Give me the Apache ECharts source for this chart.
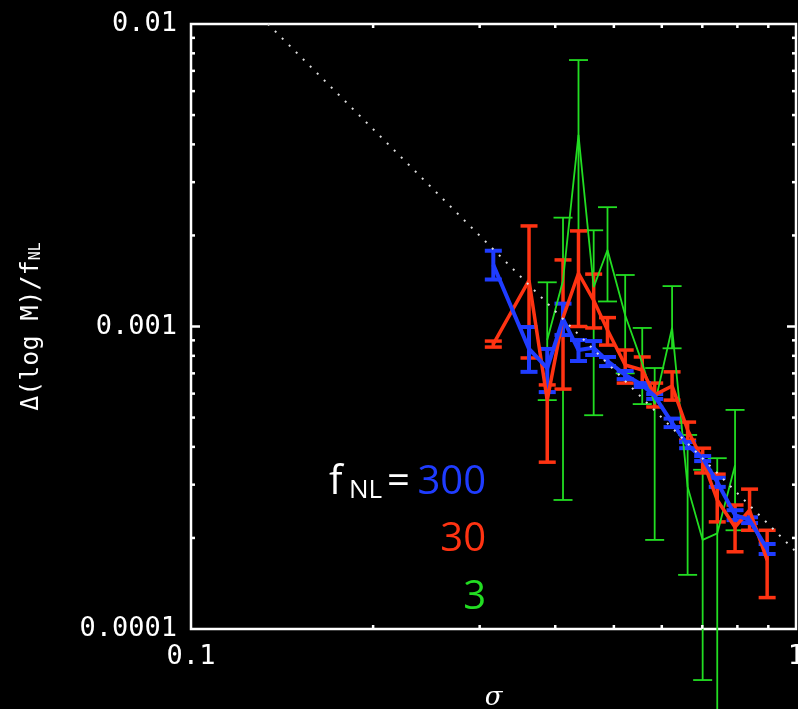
<!DOCTYPE html>
<html><head><meta charset="utf-8">
<script src="https://cdn.jsdelivr.net/npm/echarts@6/dist/echarts.min.js"></script>
<style>html,body{margin:0;padding:0;background:#000;}#c{width:798px;height:709px;}</style>
</head><body><div id="c"></div>
<script>
// ---- data ----
const sigma = [0.316, 0.362, 0.388, 0.412, 0.437, 0.463, 0.488, 0.522, 0.557, 0.584, 0.624, 0.662, 0.701, 0.741, 0.793, 0.838, 0.896];

const blueVal = [0.00160, 0.000843, 0.000729, 0.00106, 0.000836, 0.00085, 0.000769, 0.000692, 0.000641, 0.000589, 0.000480, 0.000406, 0.000367, 0.000306, 0.000238, 0.000229, 0.000184];
const blueHi  = [0.00178, 0.000996, 0.000843, 0.00119, 0.000902, 0.000895, 0.000793, 0.000713, 0.000650, 0.000598, 0.000496, 0.000415, 0.000373, 0.000316, 0.000247, 0.000234, 0.000191];
const blueLo  = [0.00143, 0.000708, 0.000607, 0.000937, 0.000769, 0.000805, 0.000740, 0.000670, 0.000631, 0.000576, 0.000465, 0.000396, 0.000359, 0.000295, 0.000229, 0.000224, 0.000177];

const redVal = [0.000875, 0.00142, 0.000571, 0.00107, 0.00150, 0.00122, 0.000974, 0.000746, 0.000718, 0.000594, 0.000636, 0.000455, 0.000362, 0.000267, 0.000217, 0.000247, 0.000169];
const redHi  = [0.000895, 0.00215, 0.000641, 0.00166, 0.00207, 0.00149, 0.00107, 0.000836, 0.000793, 0.00065, 0.000708, 0.000483, 0.000396, 0.000325, 0.000257, 0.00029, 0.000212];
const redLo  = [0.000855, 0.000787, 0.000356, 0.000621, 0.00100, 0.000989, 0.000868, 0.00065, 0.00065, 0.000542, 0.000571, 0.000421, 0.000328, 0.000226, 0.00018, 0.000212, 0.000127];

const greenVal = [null, null, 0.000902, 0.00142, 0.0043, 0.00135, 0.00179, 0.00109, 0.000757, 0.000553, 0.00099, 0.000295, 0.000197, 0.000207, 0.000348, null, null];
const greenHi  = [null, null, 0.0014, 0.00229, 0.0076, 0.00208, 0.00248, 0.00148, 0.000989, 0.000729, 0.00136, 0.000438, 0.000336, 0.000367, 0.00053, null, null];
const greenLo  = [null, null, 0.000571, 0.000267, 0.0010, 0.000509, 0.00121, 0.00070, 0.000554, 0.000197, 0.000847, 0.000151, 0.0000678, 0.00004, 0.000212, null, null];

const refSigma = [0.134, 1.0];
const refY = [0.01, 0.00018];

const xTickLabels = {'-1': '0.1', '0': '1'};
const yTickLabels = {'-4': '0.0001', '-3': '0.001', '-2': '0.01'};
const xMinorTicks = [0.2, 0.3, 0.4, 0.5, 0.6, 0.7, 0.8, 0.9];
const yMajorTicks = [0.001];
const yMinorTicks = [0.0002, 0.0003, 0.0004, 0.0005, 0.0006, 0.0007, 0.0008, 0.0009, 0.002, 0.003, 0.004, 0.005, 0.006, 0.007, 0.008, 0.009];

// ---- build ----
const BLUE = '#1f3cff', RED = '#ff3312', GREEN = '#22dd22';

function lineData(vals) { return sigma.map((s, i) => [s, vals[i]]); }
function errData(lo, hi) {
  const out = [];
  sigma.forEach((s, i) => { if (lo[i] != null && hi[i] != null) out.push([s, lo[i], hi[i]]); });
  return out;
}
function errSeries(lo, hi, color, lw, cap) {
  return {
    type: 'custom', coordinateSystem: 'cartesian2d', silent: true, clip: false,
    encode: { x: 0, y: [1, 2] },
    data: errData(lo, hi),
    renderItem: (params, api) => {
      const x = api.value(0);
      const pLo = api.coord([x, api.value(1)]);
      const pHi = api.coord([x, api.value(2)]);
      const h = cap / 2;
      const st = { stroke: color, lineWidth: lw };
      return { type: 'group', children: [
        { type: 'line', shape: { x1: pLo[0], y1: pLo[1], x2: pHi[0], y2: pHi[1] }, style: st },
        { type: 'line', shape: { x1: pLo[0] - h, y1: pLo[1], x2: pLo[0] + h, y2: pLo[1] }, style: st },
        { type: 'line', shape: { x1: pHi[0] - h, y1: pHi[1], x2: pHi[0] + h, y2: pHi[1] }, style: st }
      ]};
    }
  };
}
function lineSeries(vals, color, lw) {
  return { type: 'line', data: lineData(vals), symbol: 'none', silent: true,
    lineStyle: { color: color, width: lw }, connectNulls: false };
}
function xTickSeries(vals, len) {
  return { type: 'custom', coordinateSystem: 'cartesian2d', silent: true,
    data: vals.map(v => [v, 0.001]),
    renderItem: (params, api) => {
      const cs = params.coordSys; const x = api.coord([api.value(0), 0.001])[0];
      const st = { stroke: '#fff', lineWidth: 2.5 };
      return { type: 'group', children: [
        { type: 'line', shape: { x1: x, y1: cs.y + cs.height, x2: x, y2: cs.y + cs.height - len }, style: st },
        { type: 'line', shape: { x1: x, y1: cs.y, x2: x, y2: cs.y + len }, style: st }
      ]};
    }
  };
}
function yTickSeries(vals, len) {
  return { type: 'custom', coordinateSystem: 'cartesian2d', silent: true,
    data: vals.map(v => [0.5, v]),
    renderItem: (params, api) => {
      const cs = params.coordSys; const y = api.coord([0.5, api.value(1)])[1];
      const st = { stroke: '#fff', lineWidth: 2.5 };
      return { type: 'group', children: [
        { type: 'line', shape: { x1: cs.x, y1: y, x2: cs.x + len, y2: y }, style: st },
        { type: 'line', shape: { x1: cs.x + cs.width, y1: y, x2: cs.x + cs.width - len, y2: y }, style: st }
      ]};
    }
  };
}

const chart = echarts.init(document.getElementById('c'));
const labFont = { color: '#fff', fontFamily: 'DejaVu Sans Mono', fontSize: 27 };
chart.setOption({
  backgroundColor: '#000',
  animation: false,
  grid: { left: 191, top: 24, width: 605, height: 605, outerBoundsMode: 'none', containLabel: false,
    show: true, borderColor: '#fff', borderWidth: 2.5, backgroundColor: 'transparent' },
  xAxis: {
    type: 'log', min: 0.1, max: 1, logBase: 10,
    axisLine: { show: false }, axisTick: { show: false }, splitLine: { show: false },
    axisLabel: Object.assign({ margin: 14, showMinLabel: true, showMaxLabel: true, hideOverlap: false,
      formatter: v => xTickLabels[String(Math.round(Math.log10(v)))] || '' }, labFont),
    name: 'σ', nameLocation: 'middle', nameGap: 56,
    nameTextStyle: { color: '#fff', fontFamily: 'DejaVu Serif', fontStyle: 'italic', fontSize: 26 }
  },
  yAxis: {
    type: 'log', min: 0.0001, max: 0.01, logBase: 10,
    axisLine: { show: false }, axisTick: { show: false }, splitLine: { show: false },
    axisLabel: Object.assign({ margin: 14,
      formatter: v => yTickLabels[String(Math.round(Math.log10(v)))] || '' }, labFont),
    name: '{a|Δ(log M)/f}{b|NL}', nameLocation: 'middle', nameGap: 147, nameRotate: 90,
    nameTextStyle: { color: '#fff', rich: {
      a: { color: '#fff', fontFamily: 'DejaVu Sans Mono', fontSize: 25 },
      b: { color: '#fff', fontFamily: 'DejaVu Sans Mono', fontSize: 15, verticalAlign: 'bottom', padding: [10, 0, 0, 0] }
    } }
  },
  series: [
    lineSeries(greenVal, GREEN, 1.8),
    errSeries(greenLo, greenHi, GREEN, 1.8, 19),
    lineSeries(redVal, RED, 3.5),
    errSeries(redLo, redHi, RED, 3.5, 17),
    lineSeries(blueVal, BLUE, 4),
    errSeries(blueLo, blueHi, BLUE, 4, 17),
    { type: 'line', data: refSigma.map((s, i) => [s, refY[i]]), symbol: 'none', silent: true, z: 5,
      lineStyle: { color: '#dddddd', width: 2, type: [2, 7.9] } },
    xTickSeries(xMinorTicks, 4),
    yTickSeries(yMinorTicks, 4),
    yTickSeries(yMajorTicks, 9)
  ],
  graphic: [
    { type: 'text', x: 329, y: 483, style: { text: 'f', fill: '#fff', font: '40px "Open Sans"', verticalAlign: 'middle', align: 'left' } },
    { type: 'text', x: 349, y: 491, style: { text: 'NL', fill: '#fff', font: '26px "Open Sans"', verticalAlign: 'middle', align: 'left' } },
    { type: 'text', x: 387, y: 483, style: { text: '=', fill: '#fff', font: '40px "Open Sans"', verticalAlign: 'middle', align: 'left' } },
    { type: 'text', x: 486, y: 483, style: { text: '300', fill: BLUE, font: '40px "Open Sans"', verticalAlign: 'middle', align: 'right' } },
    { type: 'text', x: 486, y: 540, style: { text: '30', fill: RED, font: '40px "Open Sans"', verticalAlign: 'middle', align: 'right' } },
    { type: 'text', x: 486, y: 598, style: { text: '3', fill: GREEN, font: '40px "Open Sans"', verticalAlign: 'middle', align: 'right' } }
  ]
});
</script></body></html>
